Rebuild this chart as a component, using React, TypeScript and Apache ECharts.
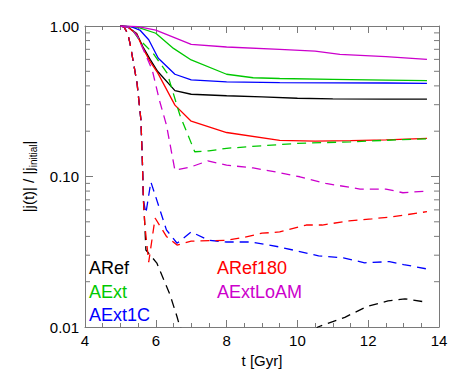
import React, { useEffect, useRef } from "react";
import * as echarts from "echarts";

const FONT = "'Liberation Sans', Arial, Helvetica, sans-serif";
const AX = "#7a7a7a";
const X_MIN = 4;
const X_MAX = 14;

// ---- solid curves ----
const tARef = [5.0, 5.2, 5.46, 5.64, 5.84, 6.05, 6.54, 7.0, 8.0, 9.0, 10.0, 11.0, 12.5, 13.66];
const vARef = [1.0, 0.99, 0.89, 0.725, 0.6, 0.5, 0.372, 0.352, 0.344, 0.338, 0.331, 0.328, 0.327, 0.327];

const tAExt = [5.0, 5.5, 6.0, 6.5, 7.0, 8.0, 8.75, 9.5, 11.0, 12.5, 13.66];
const vAExt = [1.0, 0.98, 0.895, 0.71, 0.595, 0.478, 0.453, 0.448, 0.442, 0.437, 0.434];

const tAExt1C = [5.0, 5.3, 5.55, 5.8, 6.07, 6.54, 7.0, 8.0, 9.5, 11.0, 12.5, 13.66];
const vAExt1C = [1.0, 0.99, 0.94, 0.81, 0.61, 0.478, 0.438, 0.425, 0.42, 0.419, 0.418, 0.416];

const tARef180 = [5.0, 5.2, 5.46, 5.64, 5.84, 6.05, 6.54, 7.0, 8.0, 9.5, 10.5, 11.5, 12.5, 13.66];
const vARef180 = [1.0, 0.99, 0.88, 0.71, 0.58, 0.49, 0.298, 0.233, 0.196, 0.174, 0.172, 0.173, 0.175, 0.179];

const tAExtLoAM = [5.0, 5.5, 6.0, 7.0, 8.0, 9.5, 10.5, 11.2, 12.5, 13.66];
const vAExtLoAM = [1.0, 0.99, 0.94, 0.756, 0.725, 0.7, 0.68, 0.648, 0.625, 0.6];

// ---- dashed curves ----
const tARefD = [5.0, 5.1, 5.2, 5.27, 5.47, 5.58, 5.62, 5.65, 5.69, 5.72, 6.03, 6.4, 6.6, 6.68, 7.5, 8.5, 9.5, 10.58, 11.34, 11.97, 12.56, 13.04, 13.66];
const vARefD = [1.0, 0.985, 0.9, 0.77, 0.418, 0.237, 0.128, 0.07, 0.0476, 0.0325, 0.0266, 0.0164, 0.0117, 0.01, 0.0055, 0.004, 0.0055, 0.01, 0.0116, 0.0137, 0.0149, 0.0154, 0.0146];

const tAExtD = [5.0, 5.3, 5.5, 5.92, 6.32, 6.68, 7.1, 7.5, 8.0, 9.0, 10.0, 11.5, 12.5, 13.66];
const vAExtD = [1.0, 0.97, 0.83, 0.66, 0.487, 0.256, 0.146, 0.148, 0.154, 0.16, 0.166, 0.17, 0.174, 0.178];

const tAExt1CD = [5.0, 5.1, 5.2, 5.27, 5.47, 5.58, 5.62, 5.65, 5.72, 5.86, 6.0, 6.3, 6.6, 7.0, 7.5, 8.0, 8.7, 9.5, 10.6, 11.3, 11.9, 12.6, 13.0, 13.66];
const vAExt1CD = [1.0, 0.985, 0.9, 0.77, 0.418, 0.237, 0.128, 0.07, 0.057, 0.092, 0.073, 0.0442, 0.036, 0.0428, 0.0377, 0.0367, 0.0367, 0.034, 0.0297, 0.0288, 0.0267, 0.0272, 0.026, 0.0243];

const tARef180D = [5.0, 5.1, 5.2, 5.27, 5.47, 5.58, 5.62, 5.65, 5.69, 5.8, 5.98, 6.3, 6.6, 7.0, 8.0, 8.5, 9.0, 9.5, 10.25, 10.7, 11.46, 12.1, 12.7, 13.66];
const vARef180D = [1.0, 0.985, 0.9, 0.77, 0.418, 0.237, 0.128, 0.07, 0.0476, 0.027, 0.053, 0.04, 0.035, 0.0372, 0.0377, 0.0395, 0.042, 0.0428, 0.0476, 0.0476, 0.0507, 0.0523, 0.054, 0.0584];

const tAExtLoAMD = [5.0, 5.3, 5.5, 5.9, 6.1, 6.3, 6.54, 7.0, 7.47, 8.0, 8.75, 9.4, 10.07, 10.8, 11.77, 12.5, 12.98, 13.66];
const vAExtLoAMD = [1.0, 0.97, 0.84, 0.51, 0.322, 0.22, 0.11, 0.116, 0.127, 0.119, 0.114, 0.107, 0.0996, 0.09, 0.0825, 0.0825, 0.078, 0.08];

const yMinorTicks = [0.02, 0.03, 0.04, 0.05, 0.06, 0.07, 0.08, 0.09, 0.2, 0.3, 0.4, 0.5, 0.6, 0.7, 0.8, 0.9];

const C_BLACK = "#000000";
const C_GREEN = "#00c800";
const C_BLUE = "#0000ff";
const C_RED = "#ff0000";
const C_MAG = "#cc00cc";

const pairs = (t: number[], v: number[]) => t.map((x, i) => [x, v[i]]);

function line(name: string, t: number[], v: number[], color: string, dashed: boolean) {
  return {
    name,
    type: "line",
    data: pairs(t, v),
    symbol: "none",
    smooth: false,
    clip: true,
    lineStyle: { color, width: 1.3, type: dashed ? [9, 6] : "solid" },
    z: 3,
  };
}

export default function App() {
  const ref = useRef<HTMLDivElement>(null);
  useEffect(() => {
    const chart = echarts.init(ref.current!, null, { renderer: "svg" });
    const xCommon = {
      type: "value",
      min: X_MIN,
      max: X_MAX,
      interval: 2,
      axisLine: { show: true, onZero: false, lineStyle: { color: AX, width: 1 } },
      axisTick: { show: true, inside: true, length: 7, lineStyle: { color: AX } },
      minorTick: { show: true, splitNumber: 4, length: 4, lineStyle: { color: AX } },
      splitLine: { show: false },
      minorSplitLine: { show: false },
    };
    const yCommon = {
      type: "log",
      logBase: 10,
      min: 0.01,
      max: 1,
      axisLine: { show: true, onZero: false, lineStyle: { color: AX, width: 1 } },
      axisTick: { show: true, inside: true, length: 8, lineStyle: { color: AX } },
      splitLine: { show: false },
    };
    chart.setOption({
      animation: false,
      backgroundColor: "#ffffff",
      textStyle: { fontFamily: FONT },
      grid: { left: 85, right: 24, top: 26, bottom: 55, containLabel: false },
      xAxis: [
        {
          ...xCommon,
          position: "bottom",
          name: "t [Gyr]",
          nameLocation: "middle",
          nameGap: 24,
          nameTextStyle: { fontSize: 15, color: "#000", fontFamily: FONT },
          axisLabel: { fontSize: 15, color: "#000", margin: 6, fontFamily: FONT },
        },
        { ...xCommon, position: "top", axisLabel: { show: false } },
      ],
      yAxis: [
        {
          ...yCommon,
          position: "left",
          name: "|j(t)| / |j{sub|initial}|",
          nameLocation: "middle",
          nameRotate: 90,
          nameGap: 43,
          nameTextStyle: {
            fontSize: 15,
            color: "#000",
            fontFamily: FONT,
            lineHeight: 20,
            rich: {
              sub: { fontSize: 10, color: "#000", fontFamily: FONT, verticalAlign: "bottom", lineHeight: 10 },
            },
          },
          axisLabel: {
            fontSize: 15,
            color: "#000",
            margin: 6,
            fontFamily: FONT,
            formatter: (v: number) => v.toFixed(2),
          },
        },
        { ...yCommon, position: "right", axisLabel: { show: false } },
      ],
      graphic: [
        { type: "text", x: 89, y: 268, style: { text: "ARef", fill: C_BLACK, fontSize: 18, fontFamily: FONT, verticalAlign: "middle" } },
        { type: "text", x: 89, y: 292, style: { text: "AExt", fill: C_GREEN, fontSize: 18, fontFamily: FONT, verticalAlign: "middle" } },
        { type: "text", x: 89, y: 315, style: { text: "AExt1C", fill: C_BLUE, fontSize: 18, fontFamily: FONT, verticalAlign: "middle" } },
        { type: "text", x: 217, y: 268, style: { text: "ARef180", fill: C_RED, fontSize: 18, fontFamily: FONT, verticalAlign: "middle" } },
        { type: "text", x: 217, y: 292, style: { text: "AExtLoAM", fill: C_MAG, fontSize: 18, fontFamily: FONT, verticalAlign: "middle" } },
      ],
      series: [
        line("ARef", tARef, vARef, C_BLACK, false),
        line("AExt", tAExt, vAExt, C_GREEN, false),
        line("AExt1C", tAExt1C, vAExt1C, C_BLUE, false),
        line("ARef180", tARef180, vARef180, C_RED, false),
        line("AExtLoAM", tAExtLoAM, vAExtLoAM, C_MAG, false),
        line("ARef (dashed)", tARefD, vARefD, C_BLACK, true),
        line("AExt (dashed)", tAExtD, vAExtD, C_GREEN, true),
        line("AExt1C (dashed)", tAExt1CD, vAExt1CD, C_BLUE, true),
        line("ARef180 (dashed)", tARef180D, vARef180D, C_RED, true),
        line("AExtLoAM (dashed)", tAExtLoAMD, vAExtLoAMD, C_MAG, true),
        {
          name: "minor ticks",
          type: "custom",
          coordinateSystem: "cartesian2d",
          silent: true,
          clip: false,
          z: 5,
          encode: { x: 0, y: 1 },
          data: yMinorTicks.map((v) => [X_MIN, v]),
          renderItem: (_params: any, api: any) => {
            const v = api.value(1);
            const l = api.coord([X_MIN, v]);
            const r = api.coord([X_MAX, v]);
            return {
              type: "group",
              children: [
                { type: "line", shape: { x1: l[0], y1: l[1], x2: l[0] + 5, y2: l[1] }, style: { stroke: AX, lineWidth: 1 } },
                { type: "line", shape: { x1: r[0] - 5, y1: r[1], x2: r[0], y2: r[1] }, style: { stroke: AX, lineWidth: 1 } },
              ],
            };
          },
        },
      ],
    });
    return () => chart.dispose();
  }, []);
  return (
    <div
      ref={ref}
      style={{ position: "fixed", left: 0, top: 0, width: 463, height: 382, background: "#fff" }}
    />
  );
}
